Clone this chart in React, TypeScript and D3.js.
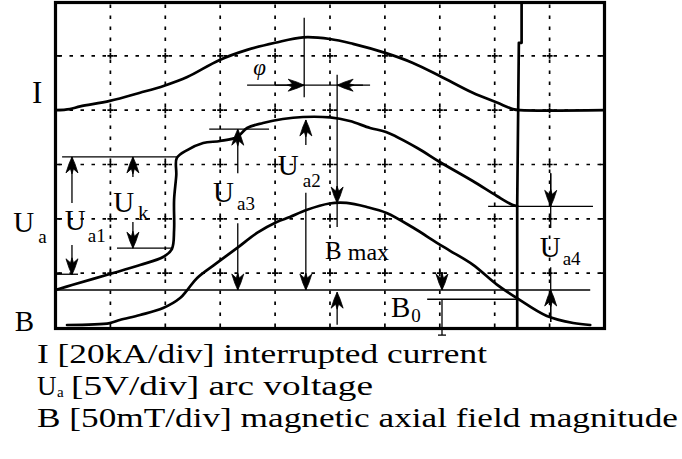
import React from "react";
import * as d3 from "d3";

// Screen: 10 horizontal x 6 vertical divisions
const X_DIVS = 10;
const Y_DIVS = 6;

// Channel offsets (division where each trace's zero sits) and sensitivity
const I_ZERO_DIV = 4;      // I [20 kA/div]
const I_PER_DIV = 20;
const UA_ZERO_DIV = 0.69;  // Ua [5 V/div]
const UA_PER_DIV = 5;
const B_ZERO_DIV = 0;      // B [50 mT/div]
const B_PER_DIV = 50;

// Interrupted current, kA (time in divisions)
const I_T = [0, 0.26, 0.45, 0.99, 1.54, 1.98, 2.4, 2.98, 3.49, 4.0, 4.51, 5.0, 5.42, 6.02, 6.51, 7.0, 7.6, 8.04, 8.33, 8.46, 10];
const I_KA = [0, 0.4, 1.4, 3.4, 6.4, 9, 12.2, 18.4, 22.2, 24.8, 26.8, 26.2, 24.4, 21, 17.4, 12.6, 6.4, 2.8, 0.4, 0, 0];

// Arc voltage, V
const UA_T = [0, 0.3, 0.99, 1.54, 1.96, 2.12, 2.16, 2.16, 2.2, 2.21, 2.4, 2.69, 3.0, 3.31, 3.49, 3.78, 4.14, 4.51, 5.0, 5.36, 5.73, 6.02, 6.59, 7.0, 7.6, 8.04, 8.33, 8.41];
const UA_V = [0, 0.46, 1.47, 2.3, 3.04, 3.77, 5.52, 8.28, 10.58, 12.15, 12.88, 13.53, 13.71, 14.08, 14.91, 15.37, 15.74, 15.92, 15.88, 15.55, 14.91, 14.54, 13.07, 11.78, 10.03, 8.65, 7.82, 7.73];

// Recovery voltage step after current zero, V
const REC_T = [8.41, 8.41, 8.44, 8.49, 8.49];
const REC_V = [-3.6, 7.75, 22.75, 22.75, 26.6];

// Axial magnetic field, mT
const B_T = [0.21, 0.99, 1.17, 1.54, 1.96, 2.27, 2.4, 2.58, 2.94, 3.31, 3.67, 4.03, 4.27, 4.57, 4.99, 5.3, 5.67, 6.03, 6.51, 6.94, 7.18, 7.6, 8.04, 8.42, 8.95, 9.43, 9.74];
const B_MT = [2.3, 4.1, 6.9, 11.5, 17.9, 27.1, 34.5, 45.6, 59.4, 73.2, 87, 97.1, 101.7, 108.1, 114.1, 114.6, 110.9, 105.4, 92, 78.2, 70.8, 57.9, 39.5, 26.6, 10.6, 4.1, 2.3];

// Legend texts
const LEGEND_I = "I [20kA/div] interrupted current";
const LEGEND_UA = "[5V/div] arc voltage";
const LEGEND_B = "B [50mT/div] magnetic axial field magnitude";

const W = 682;
const H = 459;
const FONT = "Liberation Serif, Times New Roman, serif";

const x = d3.scaleLinear().domain([0, X_DIVS]).range([55.5, 604.5]);
const y = d3.scaleLinear().domain([0, Y_DIVS]).range([327.5, 1.5]);

const yI = (v: number) => y(I_ZERO_DIV + v / I_PER_DIV);
const yU = (v: number) => y(UA_ZERO_DIV + v / UA_PER_DIV);
const yB = (v: number) => y(B_ZERO_DIV + v / B_PER_DIV);

// Measurement guides, in screen divisions
const GUIDE_H: [number, number, number][] = [
  [0.12, 2.21, 3.14], // Ua1 / Uk upper level
  [1.12, 2.12, 1.46], // Uk lower level
  [2.8, 3.89, 3.65],  // Ua3 level
  [0, 9.74, 0.69],    // voltage / field reference
  [6.77, 8.42, 0.52], // B0 level
  [7.88, 9.79, 2.23], // Ua4 level
  [3.49, 5.73, 4.46], // phase shift
  [0, 0.41, 0.98],    // Ua1 lower level
];
const GUIDE_V: [number, number, number][] = [
  [4.53, 5.7, 4.24],
  [5.13, 4.65, 1.85],
  [7.04, 0.52, -0.14],
  [9.02, 2.84, 1.83],
  [9.02, 1.11, 0.1],
];
// [x, tip y, tail y]
const ARROW_V: [number, number, number][] = [
  [0.3, 3.14, 2.29], [0.3, 0.97, 1.52],
  [1.41, 3.14, 2.77], [1.41, 1.46, 1.94],
  [3.32, 3.65, 2.84], [3.32, 0.69, 1.92],
  [4.56, 3.82, 3.36], [4.56, 0.69, 2.48],
  [5.13, 2.29, 2.6], [5.13, 0.65, 0.05],
  [7.04, 0.69, 1.02],
  [9.02, 2.23, 2.84], [9.02, 0.69, 0.1],
];
// [y, tip x, tail x]
const ARROW_H: [number, number, number][] = [
  [4.46, 4.53, 4.0],
  [4.46, 5.13, 5.6],
];

type Label = { main: string; sub?: string; x: number; y: number; size: number; subSize?: number; dx?: number; dy?: number; italic?: boolean };
const LABELS: Label[] = [
  { main: "I", x: -0.43, y: 4.13, size: 31 },
  { main: "U", sub: "a", x: -0.77, y: 1.76, size: 29, subSize: 19, dx: 4, dy: 11 },
  { main: "B", x: -0.74, y: -0.06, size: 29 },
  { main: "U", sub: "a1", x: 0.17, y: 1.79, size: 29, subSize: 19, dx: 2, dy: 12 },
  { main: "U", sub: "k", x: 1.05, y: 2.13, size: 29, subSize: 21, dx: 4, dy: 8 },
  { main: "U", sub: "a3", x: 2.87, y: 2.31, size: 29, subSize: 19, dx: 3, dy: 8 },
  { main: "U", sub: "a2", x: 4.05, y: 2.81, size: 29, subSize: 19, dx: 4, dy: 12 },
  { main: "B", sub: "max", x: 4.91, y: 1.26, size: 25, subSize: 24, dx: 6, dy: 1 },
  { main: "B", sub: "0", x: 6.11, y: 0.19, size: 29, subSize: 19, dx: 1, dy: 5 },
  { main: "U", sub: "a4", x: 8.82, y: 1.3, size: 29, subSize: 19, dx: 2, dy: 8 },
  { main: "φ", x: 3.6, y: 4.65, size: 23, italic: true },
];

// Barbed arrowhead pointing up, tip at the origin
const ARROW_HEAD = "M0,0 L-3,7 L-6,16 L-1.5,12 L0,17 L1.5,12 L6,16 L3,7 Z";

export default function App() {
  const lineI = d3.line<number>().x((_, i) => x(I_T[i])).y((v) => yI(v)).curve(d3.curveCatmullRom.alpha(0.5));
  const lineU = d3.line<number>().x((_, i) => x(UA_T[i])).y((v) => yU(v)).curve(d3.curveCatmullRom.alpha(0.5));
  const lineRec = d3.line<number>().x((_, i) => x(REC_T[i])).y((v) => yU(v));
  const lineB = d3.line<number>().x((_, i) => x(B_T[i])).y((v) => yB(v)).curve(d3.curveCatmullRom.alpha(0.5));

  const xTicks = d3.range(1, X_DIVS);
  const yTicks = d3.range(1, Y_DIVS);
  const ink = "#000";

  return (
    <svg width={W} height={H} viewBox={`0 0 ${W} ${H}`} style={{ position: "absolute", left: 0, top: 0, background: "#fff", fontFamily: FONT }}>
      <defs>
        <clipPath id="screen">
          <rect x={x(0)} y={y(Y_DIVS)} width={x(X_DIVS) - x(0)} height={y(0) - y(Y_DIVS)} />
        </clipPath>
      </defs>
      <rect width={W} height={H} fill="#fff" />

      {/* dotted graticule */}
      <g stroke={ink} strokeWidth={1.7} strokeDasharray="3.5 7.5">
        {xTicks.map((t) => (
          <line key={"gx" + t} x1={x(t)} x2={x(t)} y1={y(Y_DIVS)} y2={y(0)} strokeDashoffset={-3} />
        ))}
        {yTicks.map((t) => (
          <line key={"gy" + t} x1={x(0)} x2={x(X_DIVS)} y1={y(t)} y2={y(t)} strokeDashoffset={-3} />
        ))}
      </g>
      <g stroke={ink} strokeWidth={1.7}>
        {xTicks.map((tx) =>
          yTicks.map((ty) => (
            <path key={`c${tx}-${ty}`} d={`M${x(tx) - 3},${y(ty)}H${x(tx) + 3}M${x(tx)},${y(ty) - 3}V${y(ty) + 3}`} />
          ))
        )}
        {yTicks.map((t) => (
          <path key={"ly" + t} d={`M${x(0)},${y(t)}h5M${x(X_DIVS)},${y(t)}h-5`} />
        ))}
      </g>

      {/* guides */}
      <g stroke={ink} strokeWidth={1.3} fill="none">
        {GUIDE_H.map(([a, b, v], i) => (
          <line key={"gh" + i} x1={x(a)} x2={x(b)} y1={y(v)} y2={y(v)} />
        ))}
        {GUIDE_V.map(([u, a, b], i) => (
          <line key={"gv" + i} x1={x(u)} x2={x(u)} y1={y(a)} y2={y(b)} />
        ))}
        <line x1={x(7.04) - 4} x2={x(7.04) + 4} y1={y(-0.14)} y2={y(-0.14)} />
        {ARROW_V.map(([u, tip, tail], i) => (
          <line key={"av" + i} x1={x(u)} x2={x(u)} y1={y(tip)} y2={y(tail)} />
        ))}
        {ARROW_H.map(([v, tip, tail], i) => (
          <line key={"ah" + i} x1={x(tip)} x2={x(tail)} y1={y(v)} y2={y(v)} />
        ))}
      </g>
      <g fill={ink} stroke={ink} strokeWidth={0.8} strokeLinejoin="round">
        {ARROW_V.map(([u, tip, tail], i) => (
          <path key={"hv" + i} d={ARROW_HEAD} transform={`translate(${x(u)},${y(tip)}) rotate(${tail < tip ? 0 : 180})`} />
        ))}
        {ARROW_H.map(([v, tip, tail], i) => (
          <path key={"hh" + i} d={ARROW_HEAD} transform={`translate(${x(tip)},${y(v)}) rotate(${tail < tip ? 90 : -90})`} />
        ))}
      </g>

      {/* traces */}
      <g clipPath="url(#screen)" fill="none" stroke="#000" strokeWidth={2.7} strokeLinejoin="round" strokeLinecap="round">
        <path d={lineI(I_KA) || ""} />
        <path d={lineU(UA_V) || ""} />
        <path d={lineRec(REC_V) || ""} />
        <path d={lineB(B_MT) || ""} />
      </g>

      {/* screen frame */}
      <rect x={x(0)} y={y(Y_DIVS) + 1} width={x(X_DIVS) - x(0)} height={y(0) - y(Y_DIVS)} fill="none" stroke="#000" strokeWidth={3.2} />

      {/* trace labels */}
      <g fill="#000">
        {LABELS.map((l, i) => (
          <text key={"l" + i} x={x(l.x)} y={y(l.y)} fontSize={l.size} fontStyle={l.italic ? "italic" : "normal"} fontFamily={FONT}>
            {l.main}
            {l.sub ? (
              <tspan fontSize={l.subSize} dx={l.dx} dy={l.dy}>
                {l.sub}
              </tspan>
            ) : null}
          </text>
        ))}
      </g>

      {/* legend */}
      <g fill="#000" fontSize={27} fontFamily={FONT}>
        <text x={37} y={363} textLength={450} lengthAdjust="spacingAndGlyphs">{LEGEND_I}</text>
        <text x={37} y={395}>U</text>
        <text x={57} y={397} fontSize={15}>a</text>
        <text x={71} y={395} textLength={302} lengthAdjust="spacingAndGlyphs">{LEGEND_UA}</text>
        <text x={37} y={427} textLength={641} lengthAdjust="spacingAndGlyphs">{LEGEND_B}</text>
      </g>
    </svg>
  );
}
